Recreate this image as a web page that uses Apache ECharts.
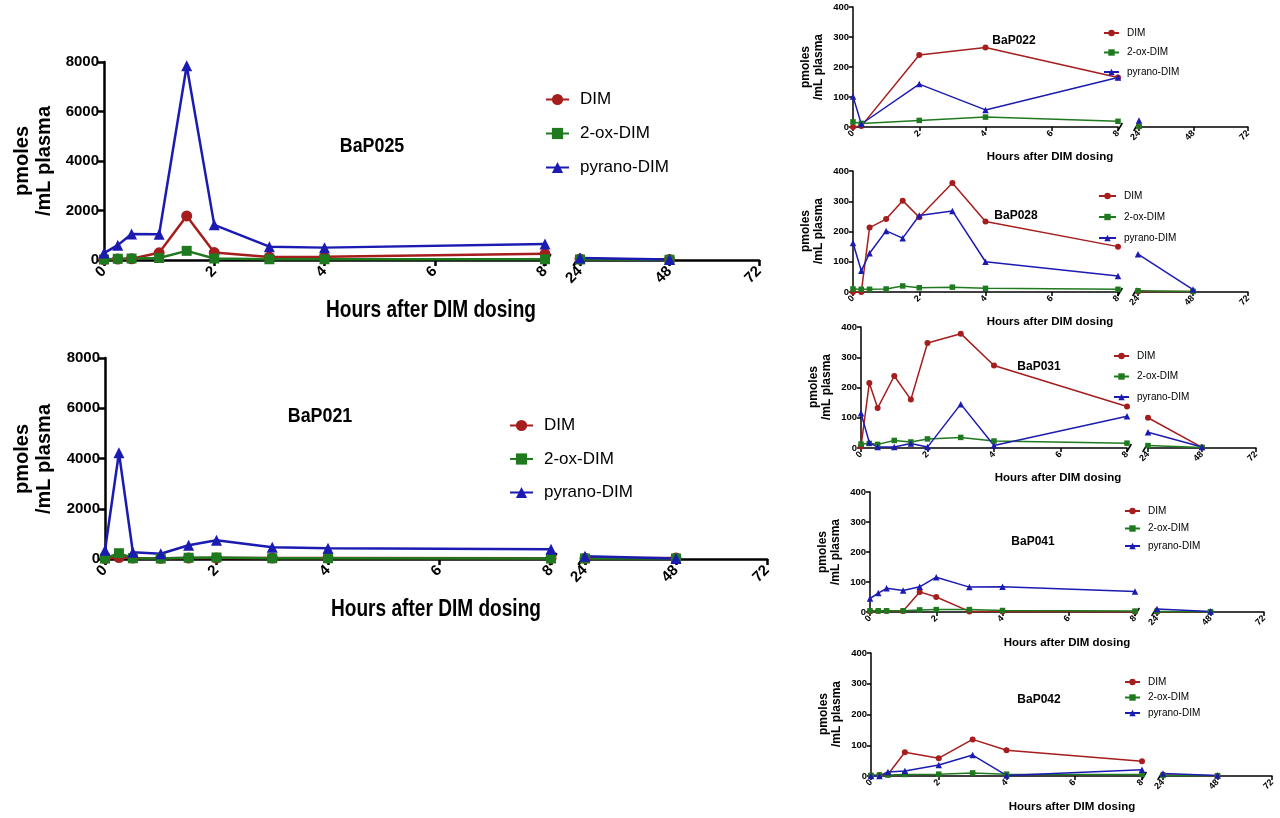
<!DOCTYPE html>
<html>
<head>
<meta charset="utf-8">
<script src="https://cdn.jsdelivr.net/npm/echarts@6/dist/echarts.min.js"></script>
<style>
html, body { margin: 0; padding: 0; background: #fff; }
#main { width: 1280px; height: 818px; }
</style>
</head>
<body>
<div id="main"></div>
<script>
// sampling times in hours: first 9 go on the 0-8 h segment, last 2 on the 24-72 h segment
var times = [0, 0.25, 0.5, 1, 1.5, 2, 3, 4, 8, 24, 48];
var seriesNames = ['DIM', '2-ox-DIM', 'pyrano-DIM'];
var xTitle = 'Hours after DIM dosing';
var yTitle = 'pmoles\n/mL plasma';

// pmoles / mL plasma (null = no sample)
var bap025Dim = [20, 40, 50, 290, 1780, 300, 120, 130, 250, 40, 20];
var bap025Ox  = [20, 50, 60, 80, 370, 60, 30, 30, 30, 20, 10];
var bap025Pyr = [280, 600, 1050, 1040, 7850, 1420, 540, 500, 650, 80, 20];

var bap021Dim = [20, 60, 40, 30, 40, 40, 40, 40, 30, 30, 40];
var bap021Ox  = [20, 230, 30, 20, 50, 60, 30, 30, 20, 20, 20];
var bap021Pyr = [350, 4230, 270, 210, 550, 750, 470, 430, 390, 110, 20];

var bap022Dim = [0, 3, null, null, null, 240, null, 265, 165, 2, null];
var bap022Ox  = [17, 12, null, null, null, 22, null, 33, 19, 2, null];
var bap022Pyr = [102, 10, null, null, null, 143, null, 57, 165, 22, null];

var bap028Dim = [0, 0, 213, 241, 302, 247, 360, 233, 150, 2, 2];
var bap028Ox  = [10, 9, 9, 10, 20, 14, 16, 12, 9, 4, 2];
var bap028Pyr = [162, 70, 128, 202, 178, 253, 268, 100, 53, 125, 8];

var bap031Dim = [5, 215, 132, 238, 160, 347, 378, 273, 137, 100, 2];
var bap031Ox  = [13, 15, 12, 25, 20, 30, 35, 23, 16, 8, 2];
var bap031Pyr = [115, 18, 3, 3, 15, 3, 145, 8, 105, 52, 3];

var bap041Dim = [2, 3, 3, 3, 67, 50, 2, 2, 1, 1, 1];
var bap041Ox  = [4, 4, 4, 4, 7, 8, 8, 5, 3, 2, 1];
var bap041Pyr = [45, 63, 79, 72, 84, 116, 83, 84, 68, 10, 2];

var bap042Dim = [2, 3, 5, 77, null, 58, 119, 84, 48, 3, 1];
var bap042Ox  = [2, 3, 3, 5, null, 6, 10, 6, 5, 2, 1];
var bap042Pyr = [0, 0, 13, 16, null, 36, 68, 2, 20, 8, 2];

var arial = '"Liberation Sans", Arial, sans-serif';
var colors = ['#a51d1d', '#1f7a1f', '#1b1bb2'];
var symbols = ['circle', 'rect', 'triangle'];

// layout of each panel (pixels)
var panels = [
  { title: 'BaP025', big: true, data: [bap025Dim, bap025Ox, bap025Pyr],
    x0: 104, x8: 545, xb0: 580, xb1: 759, yTop: 62, yBot: 260, ymax: 8000, yint: 2000,
    titleAt: [372, 146], xTitleAt: [431, 311], yTitleAt: [33, 161], legendAt: [545, 91], legendGap: 17, legendW: 23 },
  { title: 'BaP021', big: true, data: [bap021Dim, bap021Ox, bap021Pyr],
    x0: 105, x8: 551, xb0: 585, xb1: 767, yTop: 358, yBot: 559, ymax: 8000, yint: 2000,
    titleAt: [320, 416], xTitleAt: [436, 610], yTitleAt: [33, 459], legendAt: [509, 417], legendGap: 16.5, legendW: 23 },
  { title: 'BaP022', big: false, data: [bap022Dim, bap022Ox, bap022Pyr],
    x0: 853, x8: 1118, xb0: 1139, xb1: 1248, yTop: 7, yBot: 127, ymax: 400, yint: 100,
    titleAt: [1014, 41], xTitleAt: [1050, 157], yTitleAt: [812, 67], legendAt: [1103, 28], legendGap: 9.5, legendW: 15 },
  { title: 'BaP028', big: false, data: [bap028Dim, bap028Ox, bap028Pyr],
    x0: 853, x8: 1118, xb0: 1138, xb1: 1248, yTop: 171, yBot: 292, ymax: 400, yint: 100,
    titleAt: [1016, 216], xTitleAt: [1050, 322], yTitleAt: [812, 231], legendAt: [1098, 191], legendGap: 11, legendW: 17 },
  { title: 'BaP031', big: false, data: [bap031Dim, bap031Ox, bap031Pyr],
    x0: 861, x8: 1127, xb0: 1148, xb1: 1256, yTop: 327, yBot: 448, ymax: 400, yint: 100,
    titleAt: [1039, 367], xTitleAt: [1058, 478], yTitleAt: [820, 387], legendAt: [1113, 351], legendGap: 10.5, legendW: 15 },
  { title: 'BaP041', big: false, data: [bap041Dim, bap041Ox, bap041Pyr],
    x0: 870, x8: 1135, xb0: 1157, xb1: 1264, yTop: 492, yBot: 612, ymax: 400, yint: 100,
    titleAt: [1033, 542], xTitleAt: [1067, 643], yTitleAt: [829, 552], legendAt: [1124, 506], legendGap: 7.5, legendW: 15 },
  { title: 'BaP042', big: false, data: [bap042Dim, bap042Ox, bap042Pyr],
    x0: 871, x8: 1142, xb0: 1163, xb1: 1272, yTop: 653, yBot: 776, ymax: 400, yint: 100,
    titleAt: [1039, 700], xTitleAt: [1072, 807], yTitleAt: [830, 714], legendAt: [1124, 677], legendGap: 5.5, legendW: 15 }
];

var grid = [], xAxis = [], yAxis = [], series = [], legend = [], graphic = [];

function plain(v) { return String(v); }

function xAxisOpt(gi, min, max, interval, big) {
  var w = big ? 2.5 : 1.5;
  return {
    gridIndex: gi, type: 'value', min: min, max: max, interval: interval,
    splitLine: { show: false },
    axisLine: { lineStyle: { color: '#000', width: w } },
    axisTick: { length: big ? 6 : 4, lineStyle: { color: '#000', width: w } },
    axisLabel: {
      color: '#000', rotate: 45, margin: big ? 9 : 5, formatter: plain,
      fontFamily: arial, fontWeight: 'bold', fontSize: big ? 15 : 9
    }
  };
}

panels.forEach(function (p) {
  var gi = grid.length;
  var big = p.big;
  var w = big ? 2.5 : 1.5;
  var h = p.yBot - p.yTop;

  grid.push({ left: p.x0, top: p.yTop, width: p.x8 - p.x0, height: h });
  grid.push({ left: p.xb0, top: p.yTop, width: p.xb1 - p.xb0, height: h });

  xAxis.push(xAxisOpt(gi, 0, 8, 2, big));
  xAxis.push(xAxisOpt(gi + 1, 24, 72, 24, big));

  yAxis.push({
    gridIndex: gi, type: 'value', min: 0, max: p.ymax, interval: p.yint,
    splitLine: { show: false },
    axisLine: { show: true, lineStyle: { color: '#000', width: w } },
    axisTick: { show: true, length: big ? 6 : 4, lineStyle: { color: '#000', width: w } },
    axisLabel: {
      color: '#000', margin: big ? 5 : 4, formatter: plain,
      fontFamily: arial, fontWeight: 'bold', fontSize: big ? 15 : 9.5
    }
  });
  yAxis.push({ gridIndex: gi + 1, type: 'value', min: 0, max: p.ymax, show: false });

  seriesNames.forEach(function (name, k) {
    var vals = p.data[k];
    var early = [], late = [];
    times.forEach(function (t, i) {
      if (vals[i] == null) return;
      (t <= 8 ? early : late).push([t, vals[i]]);
    });
    var size = big ? [11, 10, 11][k] : [6, 5.5, 6.5][k];
    [[gi, early], [gi + 1, late]].forEach(function (seg) {
      series.push({
        name: name, type: 'line', xAxisIndex: seg[0], yAxisIndex: seg[0],
        data: seg[1], symbol: symbols[k], symbolSize: size, showAllSymbol: true,
        itemStyle: { color: colors[k] },
        lineStyle: { color: colors[k], width: big ? 2.5 : 1.5 },
        clip: false
      });
    });
  });

  legend.push({
    data: seriesNames, orient: 'vertical', selectedMode: false, padding: 0,
    left: p.legendAt[0], top: p.legendAt[1],
    itemWidth: p.legendW, itemHeight: big ? 14 : 8, itemGap: p.legendGap,
    textStyle: { color: '#000', fontFamily: arial, fontSize: big ? 17 : 10, padding: [0, 0, 0, big ? 6 : 3] }
  });

  // panel label, axis titles (condensed look via horizontal scale)
  graphic.push({
    type: 'text', x: p.titleAt[0], y: p.titleAt[1], scaleX: big ? 0.85 : 1,
    style: { text: p.title, fill: '#000', align: 'center', verticalAlign: 'middle',
      font: big ? 'bold 21px ' + arial : 'bold 12px ' + arial }
  });
  graphic.push({
    type: 'text', x: p.xTitleAt[0], y: p.xTitleAt[1], scaleX: big ? 0.83 : 1,
    style: { text: xTitle, fill: '#000', align: 'center', verticalAlign: 'middle',
      font: big ? 'bold 23px ' + arial : 'bold 11.5px ' + arial }
  });
  graphic.push({
    type: 'text', x: p.yTitleAt[0], y: p.yTitleAt[1], rotation: Math.PI / 2,
    style: { text: yTitle, fill: '#000', align: 'center', verticalAlign: 'middle',
      font: big ? 'bold 20px ' + arial : 'bold 12px ' + arial, lineHeight: big ? 22 : 13 }
  });

  // axis break marks
  var s = big ? 6 : 4;
  [p.x8 + 2, p.xb0 - 3].forEach(function (bx) {
    graphic.push({
      type: 'line',
      shape: { x1: bx - s * 0.6, y1: p.yBot + s, x2: bx + s * 0.6, y2: p.yBot - s },
      style: { stroke: '#000', lineWidth: w }
    });
  });
});

var chart = echarts.init(document.getElementById('main'));
chart.setOption({
  animation: false,
  backgroundColor: '#fff',
  grid: grid,
  xAxis: xAxis,
  yAxis: yAxis,
  legend: legend,
  series: series,
  graphic: graphic
});
</script>
</body>
</html>
